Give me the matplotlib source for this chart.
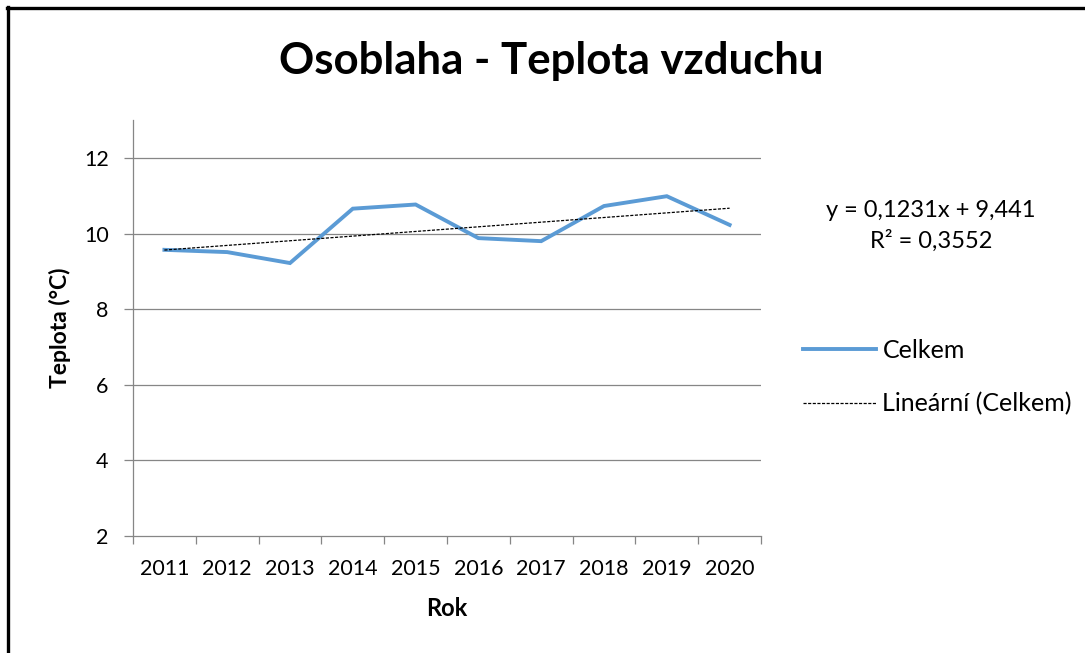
import matplotlib
matplotlib.use("Agg")
import matplotlib.pyplot as plt
from matplotlib.lines import Line2D
import numpy as np

years = ["2011", "2012", "2013", "2014", "2015", "2016", "2017", "2018", "2019", "2020"]
celkem = [9.57, 9.51, 9.22, 10.66, 10.77, 9.88, 9.80, 10.73, 10.99, 10.23]
trend_slope = 0.1231
trend_intercept = 9.441
r_squared = 0.3552
y_ticks = [2, 4, 6, 8, 10, 12]

plt.rcParams['font.family'] = ['Lato', 'DejaVu Sans']

W, H = 1085, 653
fig = plt.figure(figsize=(W / 100, H / 100), dpi=100)
fig.patch.set_facecolor('white')

def fx(px):
    return px / W

def fy(py):
    return 1 - py / H

ax = fig.add_axes([fx(133), fy(535.7), fx(761) - fx(133), fy(120.3) - fy(535.7)])

x = np.arange(1, len(years) + 1)
grid_c = '#868686'

for v in y_ticks[1:]:
    ax.axhline(v, color=grid_c, lw=0.9, zorder=1)

line_main, = ax.plot(x, celkem, color='#5B9BD5', lw=2.8, solid_joinstyle='miter', zorder=3, label='Celkem')
trend = trend_intercept + trend_slope * x
line_trend, = ax.plot(x, trend, color='black', lw=0.9, linestyle=(0, (2.5, 1.2)), zorder=4,
                      label='Lineární (Celkem)')

ax.set_xlim(0.5, len(years) + 0.5)
ax.set_ylim(2, 13)
ax.set_yticks(y_ticks)
ax.set_yticklabels([str(v) for v in y_ticks])
ax.set_xticks(x)
ax.set_xticklabels(years)
ax.set_xticks(np.arange(0.5, len(years) + 1, 1), minor=True)

for s in ['top', 'right']:
    ax.spines[s].set_visible(False)
for s in ['left', 'bottom']:
    ax.spines[s].set_color(grid_c)
    ax.spines[s].set_linewidth(0.9)

ax.tick_params(axis='y', which='major', direction='out', length=6.5, width=0.9, color=grid_c,
               labelsize=15.5, pad=11, labelcolor='black')
ax.tick_params(axis='x', which='major', length=0, labelsize=15.5, pad=17, labelcolor='black')
ax.tick_params(axis='x', which='minor', direction='out', length=6, width=0.9, color=grid_c)

ax.set_xlabel('Rok', fontsize=17, fontweight='bold', labelpad=13)
ax.set_ylabel('Teplota (°C)', fontsize=16.5, fontweight='bold', labelpad=9)

fig.text(fx(551), fy(61), 'Osoblaha - Teplota vzduchu', fontsize=31.5, fontweight='bold',
         ha='center', va='center')

eq = f"y = {trend_slope:.4f}x + {trend_intercept:.3f}".replace('.', ',')
r2 = f"R² = {r_squared:.4f}".replace('.', ',')
fig.text(fx(931), fy(210), eq, fontsize=17, ha='center', va='center')
fig.text(fx(931), fy(241), r2, fontsize=17, ha='center', va='center')

leg = fig.legend(handles=[line_main, line_trend], loc='upper left',
                 bbox_to_anchor=(fx(803), fy(339)), frameon=False, fontsize=18,
                 handlelength=2.9, handletextpad=0.28, labelspacing=1.2, borderaxespad=0,
                 borderpad=0)

# outer frame
fig.add_artist(Line2D([fx(8), fx(8)], [fy(7), 0], transform=fig.transFigure, color='black', lw=2.4))
fig.add_artist(Line2D([fx(7), 1], [fy(8), fy(8)], transform=fig.transFigure, color='black', lw=2.4))

fig.savefig('out.png', dpi=100, facecolor='white')
